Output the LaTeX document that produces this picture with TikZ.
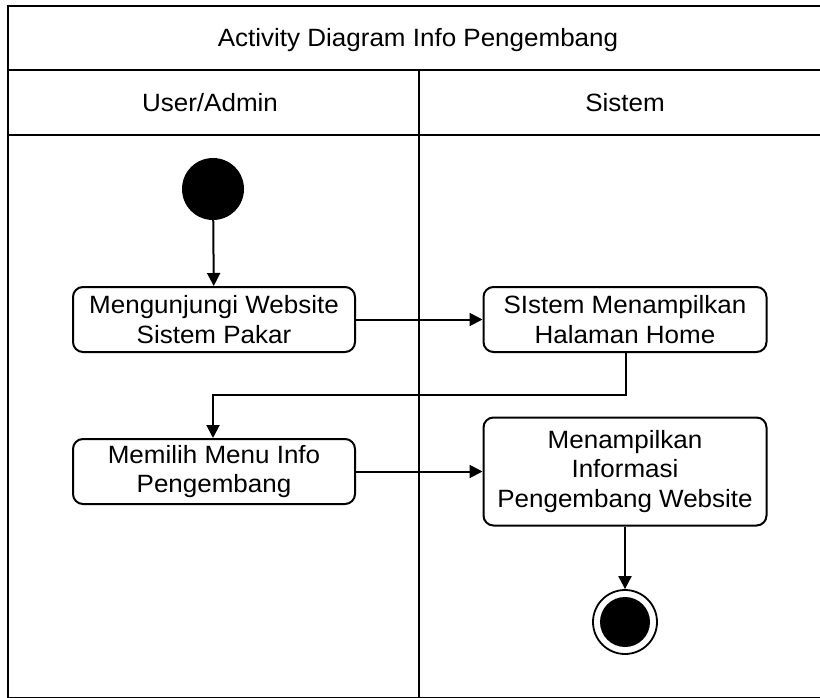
\documentclass[tikz,border=0pt]{standalone}
\usepackage{fontspec}
\setmainfont{Liberation Sans}[FakeStretch=1.04]
\usetikzlibrary{arrows.meta}
\begin{document}
\begin{tikzpicture}[x=1pt,y=-1pt,
  lane/.style={line width=2pt,draw=black},
  activity/.style={draw=black,line width=2pt,rounded corners=10pt,fill=white,
    align=center,inner sep=0pt,font=\fontsize{25}{29.5}\selectfont},
  flow/.style={line width=2pt,-{Triangle[length=13pt,width=13pt]}},
  lbl/.style={font=\fontsize{25}{29.5}\selectfont}]
\useasboundingbox (0,0) rectangle (820,698);
% swimlane frame
\draw[lane] (7.5,6) rectangle (840,698);
\draw[lane] (7.5,70.5) -- (840,70.5);
\draw[lane] (7.5,135.5) -- (840,135.5);
\draw[lane] (419,70.5) -- (419,698);
\node[lbl] (title) at (418,40) {Activity Diagram Info Pengembang};
\node[lbl] (laneA) at (210,103) {User/Admin};
\node[lbl] (laneB) at (625,103) {Sistem};
% nodes
\node[circle,fill=black,minimum size=62pt,inner sep=0pt] (start) at (213,189) {};
\node[activity,minimum width=282pt,minimum height=65pt] (a1) at (214,319.5) {Mengunjungi Website\\Sistem Pakar};
\node[activity,minimum width=283pt,minimum height=65pt] (a2) at (625,319.5) {SIstem Menampilkan\\Halaman Home};
\node[activity,minimum width=282pt,minimum height=65pt] (a3) at (214,471.5) {Memilih Menu Info\\Pengembang};
\node[activity,minimum width=283pt,minimum height=108pt] (a4) at (625,471.5) {Menampilkan\\Informasi\\Pengembang Website};
\node[circle,draw=black,line width=1.8pt,minimum size=64pt,inner sep=0pt] (end) at (625,622) {};
\node[circle,fill=black,minimum size=50pt,inner sep=0pt] at (end) {};
% flows
\draw[flow] (start) -- (a1);
\draw[flow] (a1) -- (a2);
\draw[flow] (a2.south -| 626,0) -- (626,395) -- (213,395) -- (a3.north -| 213,0);
\draw[flow] (a3) -- (a4);
\draw[flow] (a4) -- (end);
\end{tikzpicture}
\end{document}
